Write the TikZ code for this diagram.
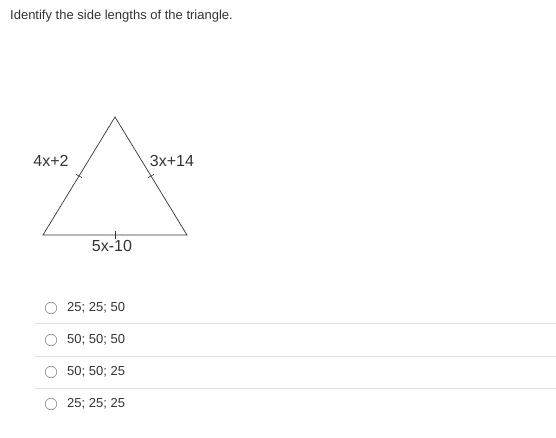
\documentclass[tikz,border=0pt]{standalone}
\usepackage{fontspec}
\setmainfont{Liberation Sans}
\usepackage{xcolor}
\usepackage{tikz}
\usetikzlibrary{positioning,calc}

\definecolor{textgray}{HTML}{333333}
\definecolor{rulegray}{HTML}{DDDDDD}
\definecolor{radiogray}{HTML}{8A8A8A}

\tikzset{
    sidelabel/.style={font=\fontsize{16}{18}\selectfont, text=textgray, inner sep=0pt},
    choice/.style={font=\fontsize{13}{15}\selectfont, text=textgray, anchor=west, inner sep=0pt},
    radio/.style={draw=radiogray, line width=0.6pt, circle, minimum size=11.5pt, inner sep=0pt},
    tick/.style={line width=0.6pt, draw=textgray}
}

\begin{document}
\begin{tikzpicture}[x=1pt,y=-1pt]
                \useasboundingbox (0,0) rectangle (556,438);

                \node[
                    anchor=west,
                    inner sep=0pt,
                    text=textgray,
                    font=\fontsize{13}{15}\selectfont
                    ] (title) at (10,16) {Identify the side lengths of the triangle.};

                % triangle
                \coordinate (apex) at (115,117);
                \coordinate (left) at (43,235);
                \coordinate (right) at (187,235);

                \draw[
                    line width=0.7pt,
                    color=textgray,
                    line join=miter
                    ] (apex) -- (left) -- (right) -- cycle;

                \draw[tick] ($(apex)!0.5!(left)+(-3,-1.6)$) -- ++(6,3.2);
                \draw[tick] ($(apex)!0.5!(right)+(-3,1.6)$) -- ++(6,-3.2);
                \draw[tick] (115,231) -- (115,239);

                \node[sidelabel] (lside) at (51,161) {4x+2};
                \node[sidelabel] (rside) at (172,161) {3x+14};
                \node[sidelabel] (bside) at (112,246) {5x-10};

                % answer choices
                \node[radio] (r1) at (51,308) {};
                \node[choice] (c1) at (67,308) {25; 25; 50};
                \node[radio] (r2) at (51,340) {};
                \node[choice] (c2) at (67,340) {50; 50; 50};
                \node[radio] (r3) at (51,372) {};
                \node[choice] (c3) at (67,372) {50; 50; 25};
                \node[radio] (r4) at (51,404) {};
                \node[choice] (c4) at (67,404) {25; 25; 25};

                \draw[rulegray, line width=0.8pt] (35,323.5) -- (556,323.5);
                \draw[rulegray, line width=0.8pt] (35,356) -- (556,356);
                \draw[rulegray, line width=0.8pt] (35,388.5) -- (556,388.5);
\end{tikzpicture}
\end{document}
